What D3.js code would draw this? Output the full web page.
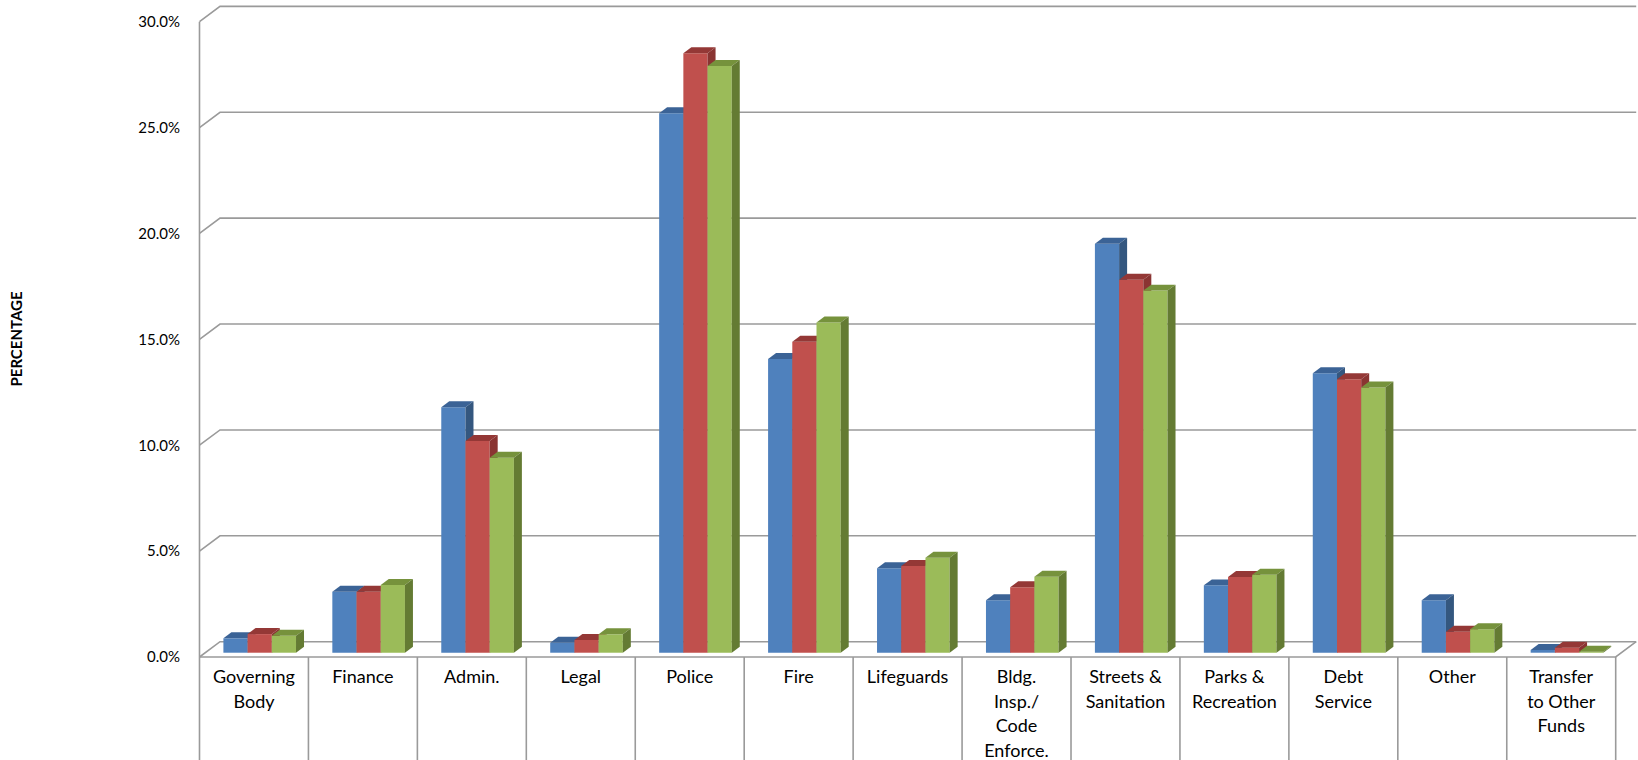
<!DOCTYPE html>
<html>
<head>
<meta charset="utf-8">
<script src="https://cdn.jsdelivr.net/npm/d3@7"></script>
<style>
  html, body { margin: 0; padding: 0; background: #fff; }
  svg { display: block; }
  text { font-family: Lato, "Open Sans", sans-serif; fill: #000; }
</style>
</head>
<body>
<svg id="chart" width="1638" height="760"></svg>
<script>
// Department share of budget, three years side by side
const categories = [
  "Governing Body", "Finance", "Admin.", "Legal", "Police", "Fire", "Lifeguards",
  "Bldg. Insp./ Code Enforce.", "Streets & Sanitation", "Parks & Recreation",
  "Debt Service", "Other", "Transfer to Other Funds"
];
// line breaks used under each category
const categoryLines = [
  ["Governing", "Body"], ["Finance"], ["Admin."], ["Legal"], ["Police"], ["Fire"],
  ["Lifeguards"], ["Bldg.", "Insp./", "Code", "Enforce."], ["Streets &", "Sanitation"],
  ["Parks &", "Recreation"], ["Debt", "Service"], ["Other"], ["Transfer", "to Other", "Funds"]
];
const series1 = [0.68, 2.88, 11.59, 0.47, 25.48, 13.87, 3.99, 2.48, 19.31, 3.18, 13.20, 2.48, 0.13];
const series2 = [0.88, 2.88, 10.00, 0.60, 28.31, 14.69, 4.10, 3.09, 17.61, 3.58, 12.91, 0.99, 0.24];
const series3 = [0.80, 3.20, 9.21, 0.87, 27.71, 15.59, 4.49, 3.59, 17.10, 3.68, 12.52, 1.11, 0.05];
const yTicks = [0, 5, 10, 15, 20, 25, 30];
const yTickLabels = ["0.0%", "5.0%", "10.0%", "15.0%", "20.0%", "25.0%", "30.0%"];
const axisTitle = "PERCENTAGE";

const seriesList = [series1, series2, series3];
const faceColors = [
  { front: "#4F81BD", top: "#3B6396", side: "#34577F" },
  { front: "#C0504D", top: "#943836", side: "#8A3432" },
  { front: "#9BBB59", top: "#76923C", side: "#647B33" }
];

const svg = d3.select("#chart");

// front plane of the plot box and the oblique depth offset
const left = 199.5, right = 1615.7;
const DX = 20.5, DY = 15.3;
const x = d3.scaleBand().domain(categories).range([left, right]).paddingInner(0).paddingOuter(0);
const y = d3.scaleLinear().domain([0, 30]).range([657, 21.7]);
const xs = d3.scaleBand().domain([0, 1, 2]).range([0, x.bandwidth()]).paddingInner(0).paddingOuter(0.75);
const D0 = 0.28, D1 = 0.67; // depth span occupied by the columns

const proj = (px, v, d) => [px + d * DX, y(v) - d * DY];
const poly = pts => pts.map(p => p.join(",")).join(" ");

const gridColor = "#9A9A9A";

// walls: gridlines run across the side wall and the back wall
const grid = svg.append("g");
yTicks.forEach(t => {
  const a = proj(left, t, 0), b = proj(left, t, 1), c = proj(right, t, 1);
  grid.append("polyline")
    .attr("points", poly([a, b, c]))
    .attr("fill", "none").attr("stroke", gridColor).attr("stroke-width", 1.6);
});

// floor edges
const f0 = proj(left, 0, 0), f1 = proj(right, 0, 0), f2 = proj(right, 0, 1);
grid.append("polyline").attr("points", poly([f0, f1, f2]))
  .attr("fill", "none").attr("stroke", gridColor).attr("stroke-width", 1.6);

// side-wall front edge continuing down as the category table border
grid.append("line")
  .attr("x1", left).attr("x2", left)
  .attr("y1", y(30)).attr("y2", 760)
  .attr("stroke", gridColor).attr("stroke-width", 1.6);

// category table dividers
categories.forEach(c => {
  const xr = x(c) + x.bandwidth();
  grid.append("line")
    .attr("x1", xr).attr("x2", xr)
    .attr("y1", y(0)).attr("y2", 760)
    .attr("stroke", gridColor).attr("stroke-width", 1.6);
});

// columns
const bars = svg.append("g");
categories.forEach((c, i) => {
  seriesList.forEach((s, k) => {
    const v = s[i];
    const xl = x(c) + xs(k), xr = xl + xs.bandwidth();
    const col = faceColors[k];
    const fbl = proj(xl, 0, D0), fbr = proj(xr, 0, D0);
    const ftl = proj(xl, v, D0), ftr = proj(xr, v, D0);
    const btl = proj(xl, v, D1), btr = proj(xr, v, D1), bbr = proj(xr, 0, D1);
    bars.append("polygon").attr("points", poly([fbl, fbr, ftr, ftl]))
      .attr("fill", col.front);
    bars.append("polygon").attr("points", poly([ftl, ftr, btr, btl]))
      .attr("fill", col.top);
    bars.append("polygon").attr("points", poly([fbr, bbr, btr, ftr]))
      .attr("fill", col.side);
  });
});

// value axis labels
const yAxis = d3.axisLeft(y)
  .tickValues(yTicks)
  .tickFormat((d, i) => yTickLabels[i])
  .tickSize(0).tickPadding(0);
const ya = svg.append("g").attr("transform", "translate(180,0)").call(yAxis);
ya.select(".domain").remove();
ya.selectAll("text")
  .style("font-family", "Lato, 'Open Sans', sans-serif")
  .style("font-size", "15px").attr("fill", "#000");

// axis title
svg.append("text")
  .attr("transform", "translate(22,339) rotate(-90)")
  .attr("text-anchor", "middle")
  .style("font-size", "15px").style("font-weight", "bold")
  .text(axisTitle);

// category labels
const cat = svg.append("g");
categories.forEach((c, i) => {
  const t = cat.append("text")
    .attr("x", x(c) + x.bandwidth() / 2)
    .attr("y", 683)
    .attr("text-anchor", "middle")
    .style("font-size", "18px");
  categoryLines[i].forEach((line, j) => {
    t.append("tspan")
      .attr("x", x(c) + x.bandwidth() / 2)
      .attr("dy", j === 0 ? 0 : 24.5)
      .text(line);
  });
});
</script>
</body>
</html>
